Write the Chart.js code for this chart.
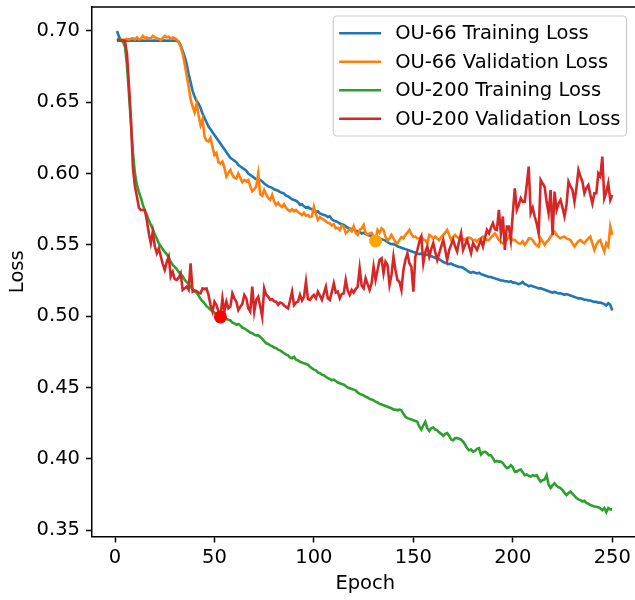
<!DOCTYPE html>
<html>
<head>
<meta charset="utf-8">
<title>Training and validation loss</title>
<script src="https://cdn.jsdelivr.net/npm/chart.js@4.4.1/dist/chart.umd.min.js"></script>
<style>
  html, body { margin: 0; padding: 0; overflow: hidden; background: #fff; }
  canvas { display: block; }
</style>
</head>
<body>
<!-- a little wider than the window: the right spine sits just outside the picture -->
<canvas id="lossChart" width="645" height="600"></canvas>
<script>
// epochs 1..250
const epochs = Array.from({ length: 250 }, (_, i) => i + 1);

const ou66Train = [
  0.700, 0.696, 0.6935, 0.6932, 0.6931, 0.6932, 0.6931, 0.6932, 0.6932, 0.6931,
  0.6932, 0.6931, 0.6932, 0.6932, 0.6931, 0.6932, 0.6931, 0.6931, 0.6932, 0.6932,
  0.6931, 0.6932, 0.6931, 0.6932, 0.6932, 0.6931, 0.6932, 0.6931, 0.6932, 0.6931,
  0.6930, 0.6925, 0.690, 0.686, 0.682, 0.677, 0.670, 0.664, 0.658, 0.654,
  0.651, 0.649, 0.646, 0.642, 0.639, 0.636, 0.633, 0.631, 0.629, 0.627,
  0.625, 0.623, 0.621, 0.619, 0.617, 0.615, 0.613, 0.611, 0.610, 0.609,
  0.608, 0.606, 0.605, 0.604, 0.603, 0.602, 0.600, 0.599, 0.598, 0.597,
  0.596, 0.595, 0.5955, 0.5945, 0.593, 0.592, 0.591, 0.5905, 0.590, 0.589,
  0.5885, 0.588, 0.587, 0.5865, 0.586, 0.5845, 0.584, 0.583, 0.582, 0.5815,
  0.581, 0.580, 0.578, 0.5785, 0.577, 0.576, 0.5765, 0.5755, 0.575, 0.574,
  0.573, 0.5735, 0.572, 0.5715, 0.571, 0.5705, 0.5695, 0.570, 0.568, 0.567,
  0.5665, 0.566, 0.565, 0.5645, 0.564, 0.563, 0.562, 0.5615, 0.561, 0.561,
  0.560, 0.5595, 0.559, 0.558, 0.5585, 0.5575, 0.557, 0.5565, 0.556, 0.5555,
  0.555, 0.5555, 0.5545, 0.554, 0.5535, 0.553, 0.552, 0.551, 0.5505, 0.5505,
  0.550, 0.549, 0.5485, 0.548, 0.5475, 0.547, 0.5465, 0.546, 0.5455, 0.545,
  0.5445, 0.544, 0.5435, 0.544, 0.543, 0.5435, 0.543, 0.5425, 0.542, 0.5415,
  0.541, 0.5405, 0.540, 0.539, 0.538, 0.5375, 0.537, 0.5365, 0.537, 0.536,
  0.5355, 0.535, 0.5345, 0.5345, 0.534, 0.533, 0.532, 0.531, 0.5305, 0.531,
  0.5305, 0.530, 0.5305, 0.5295, 0.529, 0.5285, 0.528, 0.5275, 0.5275, 0.527,
  0.5265, 0.526, 0.5255, 0.525, 0.525, 0.5245, 0.5245, 0.524, 0.5245, 0.5235,
  0.5235, 0.523, 0.5225, 0.523, 0.524, 0.5225, 0.522, 0.521, 0.5215, 0.521,
  0.5205, 0.520, 0.5195, 0.5195, 0.519, 0.5185, 0.518, 0.5175, 0.517, 0.5165,
  0.517, 0.5165, 0.516, 0.516, 0.5155, 0.515, 0.5155, 0.515, 0.5145, 0.514,
  0.5135, 0.513, 0.5125, 0.5125, 0.512, 0.5115, 0.5115, 0.511, 0.511, 0.5105,
  0.510, 0.510, 0.5095, 0.5095, 0.509, 0.5085, 0.5075, 0.509, 0.508, 0.504
];

const ou66Val = [
  0.693, 0.6935, 0.694, 0.6935, 0.694, 0.6945, 0.694, 0.6945, 0.695, 0.694,
  0.6955, 0.694, 0.6945, 0.6965, 0.695, 0.6955, 0.6945, 0.695, 0.6965, 0.6955,
  0.695, 0.6945, 0.6935, 0.695, 0.6965, 0.6955, 0.696, 0.6945, 0.6955, 0.695,
  0.694, 0.692, 0.689, 0.684, 0.677, 0.669, 0.661, 0.652, 0.647, 0.643,
  0.649, 0.641, 0.634, 0.638, 0.626, 0.623, 0.6225, 0.625, 0.6185, 0.613,
  0.6145, 0.608, 0.607, 0.6085, 0.604, 0.598, 0.6005, 0.6025, 0.599, 0.597,
  0.5965, 0.600, 0.597, 0.594, 0.5955, 0.5945, 0.5955, 0.591, 0.5875, 0.589,
  0.591, 0.600, 0.5855, 0.5845, 0.5885, 0.5855, 0.583, 0.5815, 0.585, 0.5805,
  0.578, 0.5795, 0.5775, 0.5765, 0.5785, 0.576, 0.5745, 0.5735, 0.575, 0.5735,
  0.5745, 0.573, 0.572, 0.571, 0.5725, 0.5705, 0.571, 0.5695, 0.570, 0.5768,
  0.5715, 0.5675, 0.5695, 0.5685, 0.5675, 0.5665, 0.5655, 0.565, 0.5635, 0.5645,
  0.5615, 0.562, 0.5605, 0.5635, 0.5628, 0.5581, 0.5595, 0.561, 0.5595, 0.563,
  0.5585, 0.557, 0.5605, 0.5615, 0.564, 0.5585, 0.557, 0.5581, 0.5585, 0.556,
  0.5534, 0.5605, 0.5585, 0.5616, 0.5605, 0.5555, 0.5534, 0.5545, 0.557, 0.5546,
  0.552, 0.5511, 0.5535, 0.5555, 0.5545, 0.557, 0.5585, 0.5605, 0.5575, 0.5555,
  0.5558, 0.5545, 0.5546, 0.556, 0.5535, 0.5534, 0.5511, 0.557, 0.556, 0.5545,
  0.5558, 0.5545, 0.5534, 0.5555, 0.557, 0.5585, 0.5605, 0.557, 0.5534, 0.5555,
  0.557, 0.5555, 0.5546, 0.5555, 0.554, 0.5534, 0.5545, 0.555, 0.5546, 0.553,
  0.5535, 0.5522, 0.554, 0.5545, 0.5558, 0.5545, 0.5535, 0.5534, 0.555, 0.5565,
  0.5581, 0.556, 0.5534, 0.552, 0.5511, 0.5515, 0.5535, 0.5558, 0.5545, 0.5534,
  0.5535, 0.552, 0.5511, 0.551, 0.5525, 0.550, 0.552, 0.5546, 0.5545, 0.5534,
  0.551, 0.5498, 0.5488, 0.5546, 0.5525, 0.550, 0.552, 0.5534, 0.5558, 0.5575,
  0.5593, 0.557, 0.5555, 0.5546, 0.5555, 0.5558, 0.5545, 0.554, 0.5534, 0.551,
  0.5488, 0.551, 0.5525, 0.5534, 0.552, 0.5511, 0.553, 0.5545, 0.5558, 0.551,
  0.5464, 0.550, 0.5525, 0.5534, 0.549, 0.5453, 0.5511, 0.549, 0.5628, 0.557
];

const ou200Train = [
  0.6945, 0.694, 0.6935, 0.6925, 0.689, 0.676, 0.656, 0.635, 0.615, 0.600,
  0.592, 0.587, 0.583, 0.578, 0.574, 0.571, 0.567, 0.564, 0.561, 0.5575,
  0.5545, 0.551, 0.549, 0.547, 0.545, 0.5435, 0.541, 0.538, 0.536, 0.5345,
  0.533, 0.531, 0.5295, 0.528, 0.5255, 0.524, 0.5225, 0.5205, 0.519, 0.5175,
  0.5165, 0.5145, 0.512, 0.5105, 0.509, 0.507, 0.506, 0.5045, 0.5035, 0.5025,
  0.5015, 0.501, 0.5005, 0.500, 0.4995, 0.498, 0.4975, 0.497, 0.4955, 0.495,
  0.494, 0.4945, 0.4935, 0.492, 0.4915, 0.4905, 0.4895, 0.4885, 0.488, 0.487,
  0.4865, 0.4865, 0.4855, 0.484, 0.4825, 0.481, 0.4805, 0.4795, 0.479, 0.478,
  0.4775, 0.4765, 0.476, 0.475, 0.474, 0.473, 0.4725, 0.471, 0.4705, 0.4715,
  0.4695, 0.469, 0.468, 0.4675, 0.467, 0.4665, 0.466, 0.4645, 0.4635, 0.4625,
  0.462, 0.4605, 0.460, 0.459, 0.4585, 0.4575, 0.4565, 0.456, 0.455, 0.4555,
  0.4545, 0.4535, 0.453, 0.4525, 0.452, 0.451, 0.450, 0.4495, 0.449, 0.4485,
  0.448, 0.4465, 0.4455, 0.445, 0.4445, 0.4435, 0.443, 0.442, 0.4415, 0.441,
  0.440, 0.4395, 0.4385, 0.438, 0.4375, 0.437, 0.4365, 0.436, 0.4355, 0.4345,
  0.4345, 0.434, 0.4345, 0.434, 0.4315, 0.4295, 0.4285, 0.428, 0.4275, 0.427,
  0.4265, 0.426, 0.4225, 0.4205, 0.4235, 0.426, 0.4215, 0.4195, 0.4215, 0.422,
  0.4205, 0.420, 0.4185, 0.4175, 0.416, 0.4175, 0.418, 0.416, 0.4135, 0.413,
  0.4145, 0.4145, 0.414, 0.4135, 0.412, 0.410, 0.4075, 0.406, 0.4065, 0.405,
  0.4055, 0.407, 0.4075, 0.403, 0.4045, 0.405, 0.404, 0.4025, 0.4025, 0.4005,
  0.398, 0.3985, 0.398, 0.398, 0.397, 0.395, 0.3935, 0.394, 0.3955, 0.394,
  0.391, 0.391, 0.392, 0.3925, 0.3905, 0.3885, 0.389, 0.388, 0.3875, 0.3885,
  0.388, 0.3885, 0.386, 0.384, 0.385, 0.3855, 0.3885, 0.382, 0.3795, 0.3815,
  0.3828, 0.381, 0.380, 0.3795, 0.378, 0.376, 0.3745, 0.376, 0.377, 0.3755,
  0.374, 0.3725, 0.3715, 0.371, 0.370, 0.3705, 0.369, 0.3685, 0.3676, 0.367,
  0.3665, 0.3664, 0.366, 0.3653, 0.364, 0.3655, 0.3625, 0.3655, 0.3645, 0.3645
];

const ou200Val = [
  0.693, 0.6935, 0.693, 0.6935, 0.693, 0.684, 0.662, 0.638, 0.604, 0.591,
  0.584, 0.576, 0.5745, 0.5745, 0.5745, 0.567, 0.558, 0.5511, 0.5593, 0.549,
  0.5441, 0.5476, 0.542, 0.5365, 0.5324, 0.538, 0.5417, 0.5277, 0.531, 0.526,
  0.5254, 0.527, 0.5301, 0.5184, 0.5195, 0.5207, 0.5185, 0.5371, 0.5172, 0.518,
  0.5175, 0.5165, 0.516, 0.5195, 0.519, 0.5195, 0.5149, 0.5078, 0.5032, 0.5102,
  0.5078, 0.5032, 0.4995, 0.5125, 0.5032, 0.5102, 0.5055, 0.5067, 0.516, 0.5125,
  0.5102, 0.5043, 0.5067, 0.5085, 0.5149, 0.5125, 0.5055, 0.5032, 0.5207, 0.5032,
  0.5114, 0.5137, 0.507, 0.4997, 0.5195, 0.515, 0.5137, 0.5114, 0.512, 0.5105,
  0.5102, 0.508, 0.5095, 0.509, 0.5075, 0.5065, 0.5055, 0.511, 0.5172, 0.5078,
  0.5095, 0.5102, 0.515, 0.511, 0.5135, 0.5242, 0.512, 0.5114, 0.5135, 0.5149,
  0.5125, 0.5172, 0.5145, 0.5114, 0.516, 0.5207, 0.5125, 0.5114, 0.517, 0.5231,
  0.5165, 0.5172, 0.5125, 0.5155, 0.516, 0.5254, 0.518, 0.5149, 0.5184, 0.5165,
  0.519, 0.5205, 0.5336, 0.5215, 0.5195, 0.5266, 0.5225, 0.5184, 0.5231, 0.5347,
  0.5254, 0.5324, 0.5394, 0.5406, 0.5301, 0.5382, 0.5359, 0.5219, 0.5289, 0.5417,
  0.5324, 0.5254, 0.5242, 0.5184, 0.5324, 0.5394, 0.5441, 0.5371, 0.5347, 0.5172,
  0.5417, 0.5464, 0.5523, 0.5558, 0.5371, 0.545, 0.5489, 0.5418, 0.547, 0.5512,
  0.545, 0.5394, 0.5441, 0.549, 0.5535, 0.547, 0.5394, 0.5464, 0.550, 0.5535,
  0.549, 0.5453, 0.5525, 0.5581, 0.5464, 0.550, 0.5535, 0.549, 0.5441, 0.5512,
  0.549, 0.5464, 0.550, 0.5535, 0.5488, 0.555, 0.5605, 0.5581, 0.562, 0.5652,
  0.561, 0.5605, 0.5745, 0.5581, 0.5699, 0.5464, 0.5628, 0.5628, 0.5534, 0.572,
  0.5897, 0.5745, 0.578, 0.5827, 0.5803, 0.5803, 0.592, 0.6049, 0.5722, 0.576,
  0.5699, 0.565, 0.5581, 0.5955, 0.593, 0.5908, 0.580, 0.5722, 0.5885, 0.5569,
  0.5873, 0.5745, 0.579, 0.5815, 0.576, 0.5699, 0.578, 0.5943, 0.591, 0.5885,
  0.5803, 0.590, 0.6025, 0.598, 0.5943, 0.5862, 0.590, 0.592, 0.585, 0.579,
  0.5862, 0.5862, 0.6002, 0.598, 0.6119, 0.5827, 0.587, 0.5932, 0.5815, 0.585
];

// highlighted points (OU-66 val, OU-200 val)
const markerEpochs = [131, 53];
const markerLosses = [0.5527, 0.4995];
const markerColors = ["#ffa500", "#ff0000"];

const seriesLabels = ["OU-66 Training Loss", "OU-66 Validation Loss", "OU-200 Training Loss", "OU-200 Validation Loss"];
const seriesColors = ["#1f77b4", "#ff7f0e", "#2ca02c", "#d62728"];

const xTicks = [0, 50, 100, 150, 200, 250];
const yTicks = [0.35, 0.40, 0.45, 0.50, 0.55, 0.60, 0.65, 0.70];

const FONT = "DejaVu Sans";
Chart.defaults.font.family = FONT;
Chart.defaults.font.size = 19.5;
Chart.defaults.color = "#000";

const toPoints = (values) => values.map((v, i) => ({ x: epochs[i], y: v }));

// top spine (left and bottom come from the axes)
const framePlugin = {
  id: "frame",
  afterDatasetsDraw(chart) {
    const { ctx, chartArea: a } = chart;
    ctx.save();
    ctx.strokeStyle = "#000";
    ctx.lineWidth = 1.5;
    ctx.beginPath();
    ctx.moveTo(a.left - 0.75, a.top);
    ctx.lineTo(a.right + 2, a.top);
    ctx.stroke();
    ctx.restore();
  }
};

// matplotlib-style legend box in the upper right corner
const boxLegendPlugin = {
  id: "boxLegend",
  afterDraw(chart) {
    const { ctx, chartArea: a } = chart;
    const sets = chart.data.datasets.filter((d) => d.inLegend);
    ctx.save();
    ctx.font = "19.5px '" + FONT + "'";
    const textW = Math.max(...sets.map((d) => ctx.measureText(d.label).width));
    const rowH = 28.5;
    const w = 6 + 42 + 14 + textW + 6;
    const h = sets.length * rowH + 6;
    const x = a.right - 12 - w;
    const y = a.top + 9;

    ctx.beginPath();
    ctx.roundRect(x, y, w, h, 4);
    ctx.fillStyle = "rgba(255,255,255,0.8)";
    ctx.fill();
    ctx.strokeStyle = "#cccccc";
    ctx.lineWidth = 1.2;
    ctx.stroke();

    sets.forEach((d, i) => {
      const cy = y + 3 + rowH * (i + 0.5);
      ctx.strokeStyle = d.borderColor;
      ctx.lineWidth = 2.7;
      ctx.beginPath();
      ctx.moveTo(x + 6, cy);
      ctx.lineTo(x + 48, cy);
      ctx.stroke();
      ctx.fillStyle = "#000";
      ctx.textBaseline = "middle";
      ctx.textAlign = "left";
      ctx.fillText(d.label, x + 62, cy + 1);
    });
    ctx.restore();
  }
};

const seriesData = [ou66Train, ou66Val, ou200Train, ou200Val];

const datasets = seriesData.map((values, i) => ({
  label: seriesLabels[i],
  data: toPoints(values),
  borderColor: seriesColors[i],
  borderWidth: 2.6,
  pointRadius: 0,
  tension: 0,
  inLegend: true,
  order: 4 - i // later series drawn on top
}));

datasets.push({
  label: "best",
  data: markerEpochs.map((e, i) => ({ x: e, y: markerLosses[i] })),
  showLine: false,
  pointRadius: 6.5,
  pointBorderWidth: 0,
  pointBackgroundColor: markerColors,
  borderColor: markerColors,
  inLegend: false,
  order: 0
});

new Chart(document.getElementById("lossChart"), {
  type: "line",
  data: { datasets: datasets },
  options: {
    responsive: false,
    animation: false,
    layout: { padding: { top: 7, right: 0, left: 0, bottom: 0 } },
    plugins: {
      legend: { display: false },
      tooltip: { enabled: false }
    },
    scales: {
      x: {
        type: "linear",
        min: -11.58,
        max: 263.2,
        afterBuildTicks: (axis) => { axis.ticks = xTicks.map((v) => ({ value: v })); },
        afterFit: (axis) => {
          axis.height = 63.5;
          axis.paddingLeft = 0;
          axis.paddingRight = 0;
        },
        ticks: { padding: 4, maxRotation: 0 },
        grid: { drawOnChartArea: false, drawTicks: true, tickLength: 6, tickColor: "#000", tickWidth: 1.5 },
        border: { display: true, color: "#000", width: 1.5 },
        title: { display: true, text: "Epoch", padding: { top: 0, bottom: 4 } }
      },
      y: {
        type: "linear",
        min: 0.3455,
        max: 0.7168,
        afterBuildTicks: (axis) => { axis.ticks = yTicks.map((v) => ({ value: v })); },
        afterFit: (axis) => {
          axis.width = 92;
          axis.paddingTop = 0;
          axis.paddingBottom = 0;
        },
        ticks: { padding: 6, callback: (v) => v.toFixed(2) },
        grid: { drawOnChartArea: false, drawTicks: true, tickLength: 6, tickColor: "#000", tickWidth: 1.5 },
        border: { display: true, color: "#000", width: 1.5 },
        title: { display: true, text: "Loss", padding: { top: 6, bottom: 0 } }
      }
    }
  },
  plugins: [framePlugin, boxLegendPlugin]
});
</script>
</body>
</html>
